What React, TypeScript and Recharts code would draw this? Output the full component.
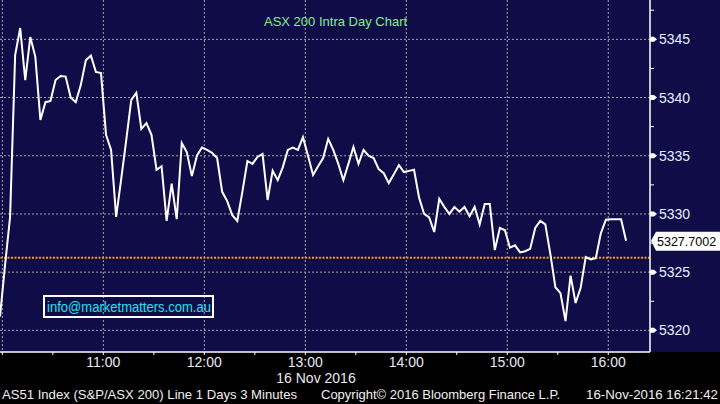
import React from 'react';
import { LineChart, Line, XAxis, YAxis, CartesianGrid, ReferenceLine } from 'recharts';

// ASX 200, 16 Nov 2016, 3-minute bars (minutes after 10:00)
const START_MIN = -1.4;
const STEP_MIN = 3;
const VALUES = [
  5321.2, 5325.6, 5329.75, 5343.65, 5345.97, 5341.5, 5345.2, 5343.5, 5338.07, 5339.6,
  5339.7, 5341.5, 5341.85, 5341.8, 5340.0, 5339.6, 5341.07, 5343.2, 5343.6, 5342.2,
  5342.1, 5336.8, 5335.5, 5329.75, 5333.0, 5336.35, 5339.8, 5340.4, 5337.3, 5337.8,
  5336.8, 5333.8, 5334.1, 5329.4, 5332.6, 5329.55, 5336.1, 5335.3, 5333.25, 5335.0,
  5335.7, 5335.5, 5335.25, 5334.8, 5331.9, 5331.1, 5329.9, 5329.4, 5331.9, 5334.55,
  5334.3, 5334.9, 5335.15, 5331.2, 5333.7, 5332.9, 5334.0, 5335.5, 5335.7, 5335.5,
  5336.6, 5335.0, 5333.35, 5334.1, 5334.8, 5336.45, 5335.5, 5334.3, 5332.9, 5334.3,
  5335.75, 5334.3, 5335.5, 5335.0, 5334.8, 5333.85, 5333.5, 5332.65, 5333.4, 5334.2,
  5333.6, 5333.7, 5333.8, 5331.4, 5330.0, 5329.7, 5328.45, 5331.3, 5330.6, 5330.0,
  5330.6, 5330.2, 5330.6, 5329.8, 5330.6, 5329.1, 5330.85, 5330.85, 5326.9, 5328.8,
  5328.6, 5327.1, 5327.3, 5326.7, 5326.8, 5327.0, 5328.8, 5329.4, 5329.1, 5326.55,
  5323.7, 5323.2, 5320.8, 5324.7, 5322.35, 5323.65, 5326.3, 5326.1, 5326.2, 5328.35,
  5329.5, 5329.55, 5329.55, 5329.55, 5327.7002,
];
const LAST_PRICE = 5327.7002;
const ORANGE_LEVEL = 5326.23;

const X_TICKS = [0, 30, 60, 90, 120, 150, 180, 210, 240, 270, 300, 330, 360];
const X_GRID = [0, 60, 120, 180, 240, 300, 360];
const X_LABELS: Record<number, string> = { 60: '11:00', 120: '12:00', 180: '13:00', 240: '14:00', 300: '15:00', 360: '16:00' };
const Y_TICKS = [5320, 5322.5, 5325, 5327.5, 5330, 5332.5, 5335, 5337.5, 5340, 5342.5, 5345, 5347.5];
const Y_MAJOR = [5320, 5325, 5330, 5335, 5340, 5345];

const data = VALUES.map((v, i) => ({ t: START_MIN + i * STEP_MIN, v }));

const FONT = '"Liberation Sans", Arial, sans-serif';
const NAVY = '#100c48';

function XTick(props: any) {
  const { x, y, payload } = props;
  const label = X_LABELS[payload.value];
  return (
    <g>
      <line x1={x} y1={y} x2={x} y2={y + 3} stroke="#ffffff" strokeWidth={1} />
      {label && (
        <text x={x} y={y + 15} textAnchor="middle" fill="#e8e8f4" fontSize={14} fontFamily={FONT}>
          {label}
        </text>
      )}
    </g>
  );
}

function YTick(props: any) {
  const { x, y, payload } = props;
  const major = Y_MAJOR.includes(payload.value);
  if (!major) {
    return <line x1={x} y1={y} x2={x + 4} y2={y} stroke="#ffffff" strokeWidth={1} />;
  }
  return (
    <g>
      <polygon points={`${x},${y - 2.5} ${x + 4},${y - 2.5} ${x + 7},${y} ${x + 4},${y + 2.5} ${x},${y + 2.5}`} fill="#ffffff" />
      <text x={x + 9} y={y + 5} fill="#e4f0ff" fontSize={14} fontFamily={FONT}>
        {payload.value}
      </text>
    </g>
  );
}

function LastPriceLabel(props: any) {
  const { viewBox } = props;
  const x = viewBox.x + viewBox.width;
  const y = viewBox.y;
  return (
    <g>
      <polygon
        points={`${x + 1},${y} ${x + 6},${y - 9} ${x + 70},${y - 9} ${x + 70},${y + 10} ${x + 6},${y + 10}`}
        fill="#ffffff"
      />
      <text x={x + 7} y={y + 5} fill="#000000" fontSize={12.5} fontFamily={FONT}>
        {LAST_PRICE.toFixed(4)}
      </text>
    </g>
  );
}

export default function App() {
  return (
    <div style={{ position: 'absolute', left: 0, top: 0, width: 720, height: 404, background: '#000000', overflow: 'hidden' }}>
      <div style={{ position: 'absolute', left: 0, top: 0, width: 720, height: 352, background: NAVY }} />
      <div style={{ position: 'absolute', left: 0, top: 0 }}>
        <LineChart width={720} height={404} data={data} margin={{ top: 0, right: 0, bottom: 0, left: 0 }}>
          <CartesianGrid
            stroke="#a4a4a0"
            strokeDasharray="2 2"
            horizontalValues={Y_MAJOR}
            verticalValues={X_GRID}
          />
          <XAxis
            dataKey="t"
            type="number"
            domain={[-1.4, 384.8]}
            allowDataOverflow
            ticks={X_TICKS}
            interval={0}
            height={52}
            tickSize={0}
            tickMargin={0}
            axisLine={{ stroke: '#ffffff', strokeWidth: 1.5 }}
            tickLine={false}
            tick={<XTick />}
          />
          <YAxis
            orientation="right"
            type="number"
            domain={[5318.14, 5348.38]}
            allowDataOverflow
            ticks={Y_TICKS}
            interval={0}
            width={70}
            tickSize={0}
            tickMargin={0}
            axisLine={{ stroke: '#ffffff', strokeWidth: 1.5 }}
            tickLine={false}
            tick={<YTick />}
          />
          <ReferenceLine y={ORANGE_LEVEL} stroke="#ff9c00" strokeWidth={2} strokeDasharray="2 1.5" />
          <Line
            type="linear"
            dataKey="v"
            stroke="#ffffff"
            strokeWidth={2}
            dot={false}
            isAnimationActive={false}
          />
          <ReferenceLine y={LAST_PRICE} stroke="none" strokeOpacity={0} label={<LastPriceLabel />} />
        </LineChart>
      </div>
      <svg style={{ position: 'absolute', left: 0, top: 0 }} width={720} height={404}>
        <text x={264} y={26} fill="#86ee86" fontSize={13} fontFamily={FONT}>ASX 200 Intra Day Chart</text>
        <rect x={44} y={296} width={169} height={21} fill="none" stroke="#ffffff" strokeWidth={2} />
        <text x={47} y={312} fill="#22e4ee" fontSize={14} fontFamily={FONT} textLength={164} lengthAdjust="spacingAndGlyphs">
          info@marketmatters.com.au
        </text>
        <text x={316} y={383} textAnchor="middle" fill="#e8e8f4" fontSize={14} fontFamily={FONT}>16 Nov 2016</text>
        <text x={2} y={399} fill="#f0f0f0" fontSize={13} fontFamily={FONT} textLength={295} lengthAdjust="spacingAndGlyphs">
          AS51 Index (S&amp;P/ASX 200) Line 1 Days 3 Minutes
        </text>
        <text x={321} y={399} fill="#f0f0f0" fontSize={13} fontFamily={FONT} textLength={239} lengthAdjust="spacingAndGlyphs">
          Copyright© 2016 Bloomberg Finance L.P.
        </text>
        <text x={586} y={399} fill="#f0f0f0" fontSize={13} fontFamily={FONT} textLength={132} lengthAdjust="spacingAndGlyphs">
          16-Nov-2016 16:21:42
        </text>
      </svg>
    </div>
  );
}
